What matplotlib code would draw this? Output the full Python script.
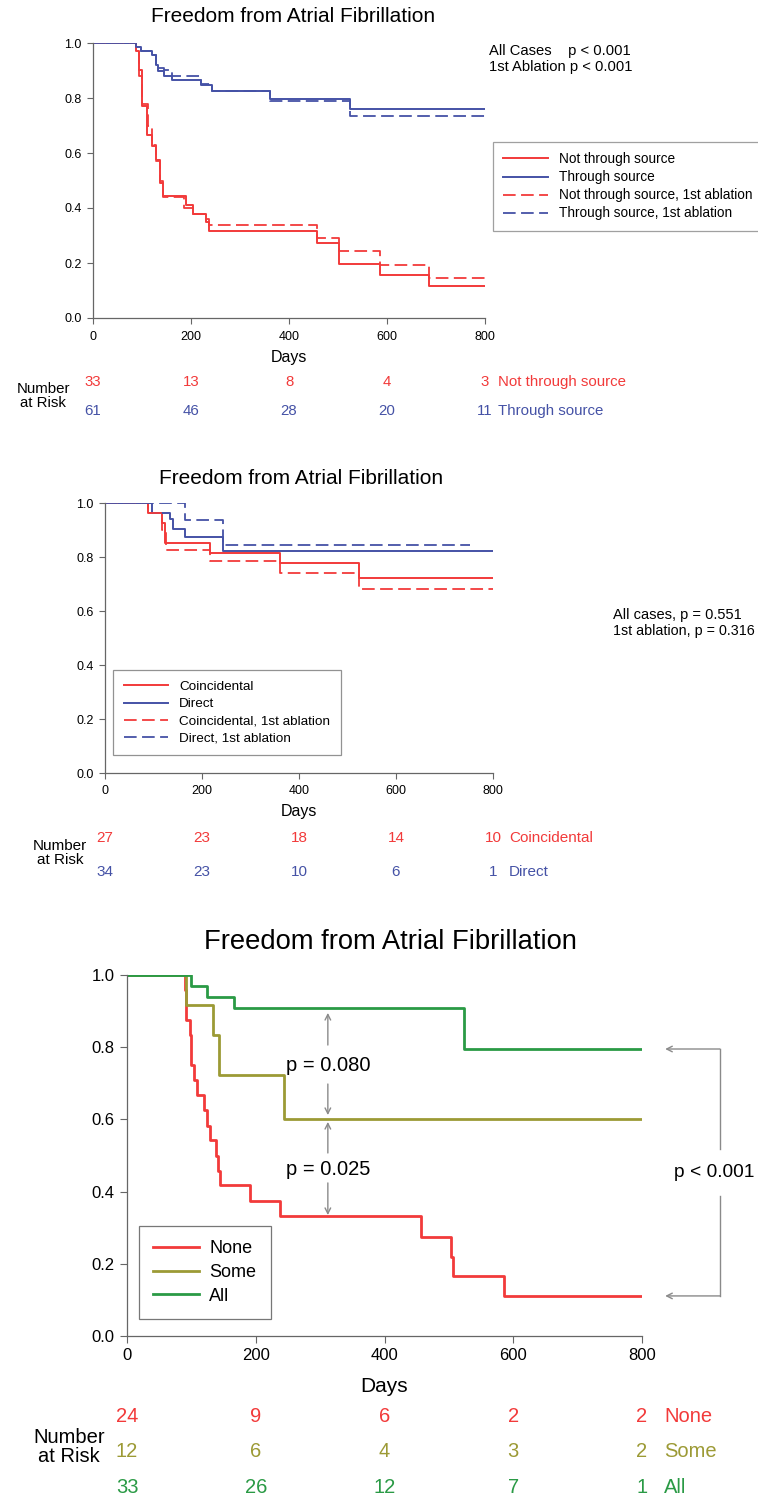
import matplotlib
matplotlib.use('Agg')
import matplotlib.pyplot as plt

plt.rcParams['font.family'] = ['Liberation Sans', 'DejaVu Sans']

# ---- panel 1 data
p1_ns_t = [0, 88, 93, 100, 110, 120, 129, 137, 143, 190, 205, 231, 236, 457, 503, 585, 685, 800]
p1_ns_s = [1.0, 0.97, 0.903, 0.77, 0.667, 0.624, 0.576, 0.49, 0.442, 0.41, 0.38, 0.35, 0.315, 0.273, 0.197, 0.157, 0.118, 0.118]
p1_ts_t = [0, 88, 97, 120, 129, 133, 144, 161, 220, 243, 362, 525, 800]
p1_ts_s = [1.0, 0.985, 0.97, 0.955, 0.92, 0.90, 0.88, 0.867, 0.848, 0.824, 0.796, 0.76, 0.76]
p1_ns1_t = [0, 88, 93, 100, 112, 120, 129, 137, 143, 185, 205, 231, 236, 457, 503, 585, 685, 800]
p1_ns1_s = [1.0, 0.97, 0.88, 0.78, 0.70, 0.63, 0.57, 0.50, 0.44, 0.40, 0.38, 0.36, 0.339, 0.29, 0.245, 0.194, 0.145, 0.145]
p1_ts1_t = [0, 88, 97, 120, 129, 144, 161, 220, 243, 362, 525, 800]
p1_ts1_s = [1.0, 0.985, 0.97, 0.955, 0.91, 0.903, 0.879, 0.85, 0.824, 0.788, 0.733, 0.733]
p1_risk_ns = [33, 13, 8, 4, 3]
p1_risk_ts = [61, 46, 28, 20, 11]

# ---- panel 2 data
p2_co_t = [0, 89, 117, 123, 217, 360, 523, 800]
p2_co_s = [1.0, 0.963, 0.926, 0.852, 0.815, 0.778, 0.723, 0.723]
p2_di_t = [0, 96, 133, 141, 164, 243, 800]
p2_di_s = [1.0, 0.963, 0.94, 0.905, 0.874, 0.821, 0.821]
p2_co1_t = [0, 89, 117, 125, 217, 360, 523, 800]
p2_co1_s = [1.0, 0.963, 0.90, 0.827, 0.785, 0.741, 0.681, 0.681]
p2_di1_t = [0, 165, 243, 753]
p2_di1_s = [1.0, 0.936, 0.843, 0.843]
p2_risk_co = [27, 23, 18, 14, 10]
p2_risk_di = [34, 23, 10, 6, 1]

# ---- panel 3 data
p3_none_t = [0, 90, 92, 98, 100, 104, 109, 119, 124, 129, 138, 141, 145, 191, 238, 456, 503, 506, 586, 800]
p3_none_s = [1.0, 0.958, 0.875, 0.833, 0.75, 0.708, 0.667, 0.625, 0.583, 0.542, 0.50, 0.458, 0.417, 0.375, 0.333, 0.275, 0.22, 0.167, 0.111, 0.111]
p3_some_t = [0, 91, 133, 143, 244, 800]
p3_some_s = [1.0, 0.917, 0.833, 0.722, 0.602, 0.602]
p3_all_t = [0, 100, 124, 166, 524, 800]
p3_all_s = [1.0, 0.970, 0.939, 0.909, 0.795, 0.795]
p3_risk_none = [24, 9, 6, 2, 2]
p3_risk_some = [12, 6, 4, 3, 2]
p3_risk_all = [33, 26, 12, 7, 1]

risk_days = [0, 200, 400, 600, 800]
title = 'Freedom from Atrial Fibrillation'

RED = '#f23a3a'
BLUE = '#4552a6'
OLIVE = '#9c9a35'
GREEN = '#2a9a45'
DASH = (0, (7, 3))

W, H = 758, 1501
fig = plt.figure(figsize=(W / 100, H / 100), dpi=100)


def box(l, t, r, b):
    return [l / W, 1 - b / H, (r - l) / W, (b - t) / H]


def style_axes(ax, fs, tl, xpad, ypad):
    ax.set_xlim(0, 800)
    ax.set_ylim(0, 1.0)
    ax.set_xticks(risk_days)
    ax.set_yticks([0, 0.2, 0.4, 0.6, 0.8, 1.0])
    ax.set_yticklabels(['0.0', '0.2', '0.4', '0.6', '0.8', '1.0'])
    for s in ['top', 'right']:
        ax.spines[s].set_visible(False)
    for s in ['left', 'bottom']:
        ax.spines[s].set_color('#666666')
        ax.spines[s].set_linewidth(0.9)
    ax.tick_params(direction='out', length=tl, width=0.8, color='#666666', labelsize=fs)
    ax.tick_params(axis='x', pad=xpad)
    ax.tick_params(axis='y', pad=ypad)


def risk_rows(ax, rows, ys, fs, lab_x):
    tr = ax.get_xaxis_transform()
    for (vals, lab, col), y in zip(rows, ys):
        for d, v in zip(risk_days, vals):
            ax.text(d, y, str(v), color=col, fontsize=fs, ha='center', va='center',
                    transform=tr, clip_on=False)
        ax.text(lab_x, y, lab, color=col, fontsize=fs, ha='left', va='center',
                transform=tr, clip_on=False)


def frame(leg, col):
    leg.get_frame().set_edgecolor(col)
    leg.get_frame().set_linewidth(0.9)


# ================= panel 1
ax1 = fig.add_axes(box(93, 43, 485, 318))
ax1.step(p1_ns_t, p1_ns_s, where='post', color=RED, lw=1.4, label='Not through source')
ax1.step(p1_ts_t, p1_ts_s, where='post', color=BLUE, lw=1.4, label='Through source')
ax1.step(p1_ns1_t, p1_ns1_s, where='post', color=RED, lw=1.3, ls=DASH, label='Not through source, 1st ablation')
ax1.step(p1_ts1_t, p1_ts1_s, where='post', color=BLUE, lw=1.3, ls=DASH, label='Through source, 1st ablation')
style_axes(ax1, 9, 4, 5, 4)
fig.text(293 / W, 1 - 17 / H, title, ha='center', va='center', fontsize=15)
ax1.text(400, -0.142, 'Days', transform=ax1.get_xaxis_transform(), ha='center', va='center', fontsize=11.5)
risk_rows(ax1, [(p1_risk_ns, 'Not through source', RED), (p1_risk_ts, 'Through source', BLUE)],
          [-0.233, -0.338], 10.8, 826)
fig.text(43 / W, 1 - 396 / H, 'Number\nat Risk', ha='center', va='center', fontsize=10.8, linespacing=1.05)
fig.text(489 / W, 1 - 51 / H, 'All Cases    p < 0.001', fontsize=10.6, va='center')
fig.text(489 / W, 1 - 67 / H, '1st Ablation p < 0.001', fontsize=10.6, va='center')
leg1 = fig.legend(*ax1.get_legend_handles_labels(), loc='upper left', bbox_to_anchor=(493 / W, 1 - 142 / H),
                  fontsize=9.8, frameon=True, fancybox=False, borderaxespad=0, handlelength=3.3,
                  labelspacing=0.3, borderpad=0.75, handletextpad=0.8)
frame(leg1, '#888888')

# ================= panel 2
ax2 = fig.add_axes(box(105, 503, 493, 773))
ax2.step(p2_co_t, p2_co_s, where='post', color=RED, lw=1.4, label='Coincidental')
ax2.step(p2_di_t, p2_di_s, where='post', color=BLUE, lw=1.4, label='Direct')
ax2.step(p2_co1_t, p2_co1_s, where='post', color=RED, lw=1.3, ls=DASH, label='Coincidental, 1st ablation')
ax2.step(p2_di1_t, p2_di1_s, where='post', color=BLUE, lw=1.3, ls=DASH, label='Direct, 1st ablation')
style_axes(ax2, 9, 4, 5, 4)
fig.text(301 / W, 1 - 478 / H, title, ha='center', va='center', fontsize=15)
ax2.text(400, -0.141, 'Days', transform=ax2.get_xaxis_transform(), ha='center', va='center', fontsize=11.5)
risk_rows(ax2, [(p2_risk_co, 'Coincidental', RED), (p2_risk_di, 'Direct', BLUE)],
          [-0.241, -0.367], 11, 833)
fig.text(60 / W, 1 - 853 / H, 'Number\nat Risk', ha='center', va='center', fontsize=11, linespacing=1.05)
fig.text(613 / W, 1 - 615 / H, 'All cases, p = 0.551', fontsize=10.5, va='center')
fig.text(613 / W, 1 - 631 / H, '1st ablation, p = 0.316', fontsize=10.3, va='center')
leg2 = ax2.legend(loc='upper left', bbox_to_anchor=(113 / W, 1 - 670 / H), bbox_transform=fig.transFigure,
                  fontsize=9.7, frameon=True, fancybox=False, borderaxespad=0, handlelength=3.3,
                  labelspacing=0.35, borderpad=0.8, handletextpad=0.8)
frame(leg2, '#777777')

# ================= panel 3
ax3 = fig.add_axes(box(127, 975, 642, 1336))
ax3.step(p3_none_t, p3_none_s, where='post', color=RED, lw=2.0, label='None')
ax3.step(p3_some_t, p3_some_s, where='post', color=OLIVE, lw=2.0, label='Some')
ax3.step(p3_all_t, p3_all_s, where='post', color=GREEN, lw=2.0, label='All')
style_axes(ax3, 12, 5, 4, 4)
fig.text(390 / W, 1 - 942 / H, title, ha='center', va='center', fontsize=19.7)
ax3.text(400, -0.141, 'Days', transform=ax3.get_xaxis_transform(), ha='center', va='center', fontsize=15)
risk_rows(ax3, [(p3_risk_none, 'None', RED), (p3_risk_some, 'Some', OLIVE), (p3_risk_all, 'All', GREEN)],
          [-0.222, -0.321, -0.421], 14.5, 834)
fig.text(69 / W, 1 - 1447 / H, 'Number\nat Risk', ha='center', va='center', fontsize=14.5, linespacing=1.0)
leg3 = ax3.legend(loc='upper left', bbox_to_anchor=(139 / W, 1 - 1226 / H), bbox_transform=fig.transFigure,
                  fontsize=13, frameon=True, fancybox=False, borderaxespad=0, handlelength=2.55,
                  labelspacing=0.37, borderpad=0.8, handletextpad=0.55)
frame(leg3, '#555555')

# p-value arrows
GREY = '#8a8a8a'
ap = dict(arrowstyle='->', color=GREY, lw=1.0, shrinkA=0, shrinkB=0)
ax3.annotate('', xy=(312, 0.895), xytext=(312, 0.806), arrowprops=ap)
ax3.annotate('', xy=(312, 0.612), xytext=(312, 0.698), arrowprops=ap)
ax3.text(312, 0.75, 'p = 0.080', ha='center', va='center', fontsize=14.5)
ax3.annotate('', xy=(312, 0.593), xytext=(312, 0.507), arrowprops=ap)
ax3.annotate('', xy=(312, 0.335), xytext=(312, 0.424), arrowprops=ap)
ax3.text(312, 0.46, 'p = 0.025', ha='center', va='center', fontsize=14.5)

ax3.annotate('', xy=(836, 0.795), xytext=(921, 0.795), arrowprops=ap, annotation_clip=False)
ax3.annotate('', xy=(836, 0.111), xytext=(921, 0.111), arrowprops=ap, annotation_clip=False)
ax3.plot([921, 921], [0.795, 0.518], color=GREY, lw=1.0, clip_on=False)
ax3.plot([921, 921], [0.388, 0.111], color=GREY, lw=1.0, clip_on=False)
ax3.text(850, 0.452, 'p < 0.001', ha='left', va='center', fontsize=13.8, clip_on=False)

fig.savefig('out.png', dpi=100)
